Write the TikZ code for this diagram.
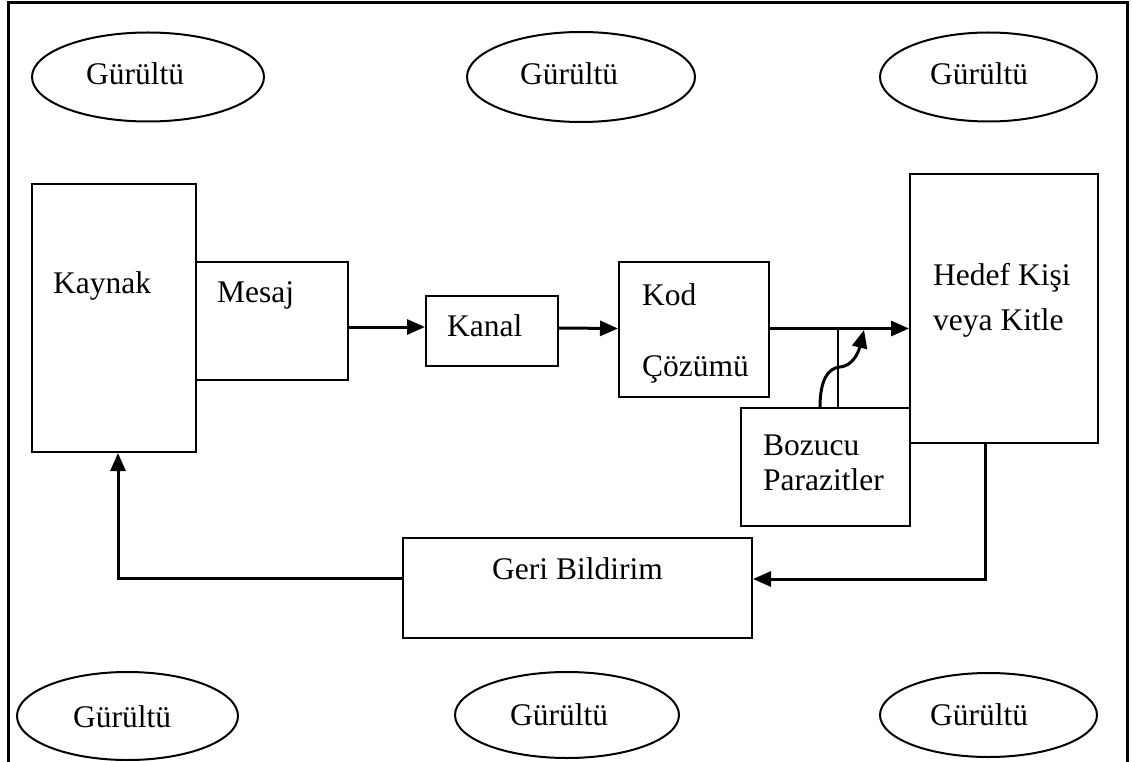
\documentclass[tikz,border=0pt]{standalone}
\usepackage{fontspec}
\setmainfont{Liberation Serif}
\usetikzlibrary{arrows.meta,shapes.geometric,calc}
\tikzset{
  box/.style={draw, line width=2pt, rectangle, inner sep=0pt},
  noise/.style={draw, line width=2pt, ellipse, inner sep=0pt},
  txt/.style={anchor=base west, inner sep=0pt, font=\fontsize{31.5}{36}\selectfont},
  arr/.style={line width=3pt, -{Triangle[length=18pt,width=15pt]}},
  thinline/.style={line width=1.8pt},
  frameline/.style={line width=3pt}
}
\begin{document}
\begin{tikzpicture}[x=1pt,y=-1pt]
\path[use as bounding box] (0,0) rectangle (1132,762);
% frame
\coordinate (f1) at (8,762);
\coordinate (f2) at (8,3);
\coordinate (f3) at (1127,3);
\coordinate (f4) at (1127,762);
\draw[frameline] (f1) -- (f2) -- (f3) -- (f4);

% noise ellipses
\node[noise, minimum width=232pt, minimum height=89pt] (e1) at (148,77) {};
\node[noise, minimum width=228pt, minimum height=90pt] (e2) at (581,77) {};
\node[noise, minimum width=217pt, minimum height=89pt] (e3) at (988.5,77) {};
\node[noise, minimum width=221pt, minimum height=88pt] (e4) at (127.5,716) {};
\node[noise, minimum width=224pt, minimum height=86pt] (e5) at (567,715) {};
\node[noise, minimum width=217pt, minimum height=84pt] (e6) at (988.5,715) {};
\node[txt] (t1) at (86,85) {Gürültü};
\node[txt] (t2) at (520,85) {Gürültü};
\node[txt] (t3) at (930,85) {Gürültü};
\node[txt] (t4) at (73,727) {Gürültü};
\node[txt] (t5) at (510,725) {Gürültü};
\node[txt] (t6) at (930,725) {Gürültü};

% boxes
\node[box, minimum width=164pt, minimum height=268pt] (kaynak) at (114,318) {};
\node[box, minimum width=152pt, minimum height=118pt] (mesaj) at (272,321) {};
\node[box, minimum width=132pt, minimum height=70pt] (kanal) at (492,331) {};
\node[box, minimum width=150pt, minimum height=135pt] (kod) at (694,329.5) {};
\node[box, minimum width=188pt, minimum height=269pt] (hedef) at (1004,308.5) {};
\node[box, minimum width=169pt, minimum height=118pt] (bozucu) at (825.5,467) {};
\node[box, minimum width=349pt, minimum height=100pt] (geri) at (577.5,588) {};

% texts
\node[txt] (tk) at (53,293) {Kaynak};
\node[txt] (tm) at (217,302) {Mesaj};
\node[txt] (tc) at (447,336) {Kanal};
\node[txt] (td1) at (642,305) {Kod};
\node[txt] (td2) at (642,376) {Çözümü};
\node[txt] (th1) at (933,285) {Hedef Kişi};
\node[txt] (th2) at (933,330) {veya Kitle};
\node[txt] (tb1) at (763,455) {Bozucu};
\node[txt] (tb2) at (763,490) {Parazitler};
\node[txt] (tg) at (492,579) {Geri Bildirim};

% connectors
\draw[arr] ([yshift=-6pt]mesaj.east) -- ([yshift=4pt]kanal.west);
\draw[arr] ([yshift=3pt]kanal.east) -- ([yshift=1pt]kod.west);
\draw[arr] ([yshift=1pt]kod.east) -- ([yshift=1pt]kod.east -| hedef.west);
\draw[thinline] ([xshift=12.5pt]bozucu.north) -- ([xshift=12.5pt,yshift=1pt]bozucu.north |- kod.east);
\coordinate (ptip) at (864,330);
\draw[arr] ([xshift=-5.5pt]bozucu.north) .. controls (820,380) and (828,368) .. (840,367) .. controls (852,366) and (858,354) .. (ptip);
\draw[arr] ([xshift=-19pt]hedef.south) |- ([yshift=9pt]geri.east);
\draw[arr] ([yshift=10pt]geri.west) -| ([xshift=4pt]kaynak.south);
\end{tikzpicture}
\end{document}
